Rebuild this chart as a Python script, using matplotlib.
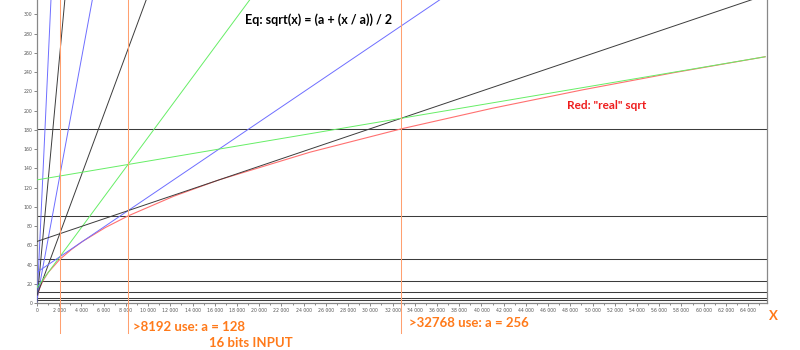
import numpy as np
import matplotlib.pyplot as plt
from matplotlib.ticker import MultipleLocator, FuncFormatter

# Approximation lines y = (a + x/a) / 2, stored as their end values
a_values = [2, 4, 8, 16, 32, 64, 128, 256]
line_colors = ['blue', 'black', 'blue', 'black', 'green', 'blue', 'black', 'green']
line_x = [0, 65536]
line_y0 = [1, 2, 4, 8, 16, 32, 64, 128]
line_y1 = [16385, 8194, 4100, 2056, 1040, 544, 320, 256]

# "real" sqrt curve
sqrt_x = [0, 16, 64, 256, 512, 1024, 2048, 3072, 4096, 6144, 8192, 12288,
          16384, 24576, 32768, 40960, 49152, 57344, 65536]
sqrt_y = [0, 4, 8, 16, 22.6, 32, 45.3, 55.4, 64, 78.4, 90.5, 110.9,
          128, 156.8, 181, 202.4, 221.7, 239.5, 256]

# horizontal limits (sqrt of switch points) and vertical switch points
h_levels = [2.83, 5.66, 11.3, 22.6, 45.3, 90.5, 181]
v_levels = [2048, 8192, 32768]

palette = {'blue': '#6e6eff', 'black': '#3c3c3c', 'green': '#66ee66'}
orange = '#ff7a1a'

fig = plt.figure(figsize=(8, 3.5), dpi=100)
ax = fig.add_axes([37 / 800, 47 / 350, 730 / 800, 303 / 350])

for lvl in h_levels:
    ax.axhline(lvl, color='#3c3c3c', lw=0.75, zorder=1)

ax.plot(sqrt_x, sqrt_y, color='#ff7070', lw=0.8, zorder=2)

for y0, y1, c in zip(line_y0, line_y1, line_colors):
    ax.plot(line_x, [y0, y1], color=palette[c], lw=0.7, zorder=3)

trans = ax.get_xaxis_transform()
for v in v_levels:
    ax.plot([v, v], [-0.1, 1], color='#ffa070', lw=0.75, transform=trans,
            clip_on=False, zorder=4)

ax.set_xlim(0, 65700)
ax.set_ylim(0, 315)

ax.xaxis.set_major_locator(MultipleLocator(2000))
ax.xaxis.set_minor_locator(MultipleLocator(1000))
ax.yaxis.set_major_locator(MultipleLocator(20))
ax.xaxis.set_major_formatter(FuncFormatter(lambda v, p: f'{int(v):,}'.replace(',', ' ')))
ax.tick_params(axis='both', labelsize=3.3, length=2, width=0.5, colors='#555555', pad=1.5)
ax.tick_params(axis='x', which='minor', length=1.5, width=0.5, colors='#555555')

for side in ['left', 'right', 'bottom']:
    ax.spines[side].set_color('#888888')
    ax.spines[side].set_linewidth(0.9)
ax.spines['top'].set_visible(False)

fig.text(245 / 800, 1 - 20 / 350, 'Eq: sqrt(x) = (a + (x / a)) / 2', fontsize=9,
         fontweight='bold', family='Lato', color='black', va='center')
fig.text(567 / 800, 1 - 105 / 350, 'Red: "real" sqrt', fontsize=8.5,
         fontweight='bold', family='Lato', color='#ee1c1c', va='center')
fig.text(133 / 800, 1 - 327 / 350, '>8192 use: a = 128', fontsize=9.5,
         fontweight='bold', family='Lato', color=orange, va='center')
fig.text(209 / 800, 1 - 343 / 350, '16 bits INPUT', fontsize=9.5,
         fontweight='bold', family='Lato', color=orange, va='center')
fig.text(409 / 800, 1 - 323 / 350, '>32768 use: a = 256', fontsize=9.5,
         fontweight='bold', family='Lato', color=orange, va='center')
fig.text(769 / 800, 1 - 316 / 350, 'X', fontsize=9.5,
         fontweight='bold', family='Lato', color=orange, va='center')

plt.savefig('out.png', dpi=100)
